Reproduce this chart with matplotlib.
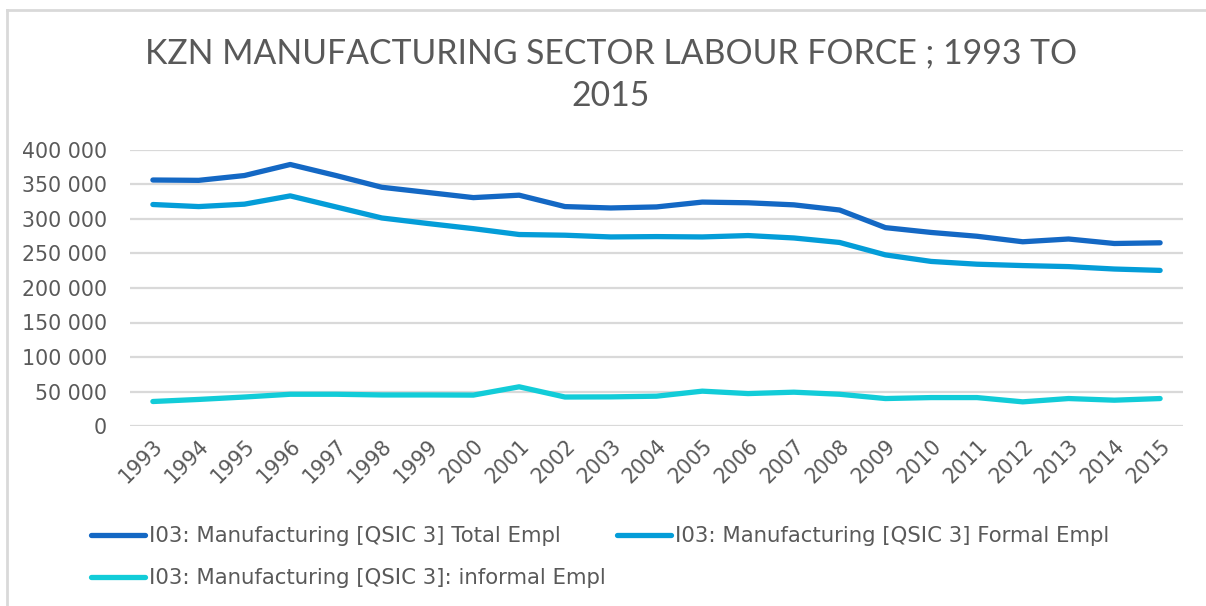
import matplotlib
matplotlib.use("Agg")
import matplotlib.pyplot as plt
from matplotlib.lines import Line2D
from matplotlib.ticker import FuncFormatter

years = [str(y) for y in range(1993, 2016)]

total_empl = [356500, 356000, 363000, 379000, 363000, 346000, 338500, 331000,
              334500, 318000, 316000, 317500, 324500, 323500, 320500, 313000,
              287500, 280500, 275000, 267000, 271000, 264500, 265500]
formal_empl = [321000, 318000, 321500, 333500, 317500, 301500, 293500, 286000,
               277500, 276500, 274000, 274500, 274000, 276000, 272500, 266000,
               248000, 238500, 234500, 232500, 231000, 227500, 225500]
informal_empl = [35500, 38500, 42000, 46000, 46000, 45000, 45000, 44800,
                 56800, 42000, 42200, 43200, 50500, 47000, 49000, 46000,
                 39800, 41200, 41200, 35000, 39800, 37400, 39800]

series_labels = ["I03: Manufacturing [QSIC 3] Total Empl",
                 "I03: Manufacturing [QSIC 3] Formal Empl",
                 "I03: Manufacturing [QSIC 3]: informal Empl"]
series_colors = ["#1468C4", "#049DD8", "#12CCD8"]

plt.rcParams['font.family'] = ['DejaVu Sans']

text_color = "#595959"
grid_color = "#D9D9D9"
W, H = 1206, 606

fig = plt.figure(figsize=(W / 100, H / 100), dpi=100)
ax = fig.add_axes([130 / W, 1 - 426 / H, (1183 - 130) / W, (426 - 150) / H])

x = range(len(years))
lines = []
for vals, lab, col in zip([total_empl, formal_empl, informal_empl], series_labels, series_colors):
    ln, = ax.plot(x, vals, color=col, linewidth=3.8, label=lab, solid_capstyle='round')
    lines.append(ln)

ax.set_xlim(-0.5, len(years) - 0.5)
ax.set_ylim(0, 400000)
ax.set_yticks(range(0, 400001, 50000))
ax.yaxis.set_major_formatter(FuncFormatter(lambda v, p: f"{int(v):,}".replace(",", " ")))
ax.set_xticks(list(x))
ax.set_xticklabels(years, rotation=45, ha='right', rotation_mode='anchor')

ax.grid(axis='y', color=grid_color, linewidth=1.6)
ax.set_axisbelow(True)
for s in ax.spines.values():
    s.set_visible(False)
ax.tick_params(axis='both', length=0, colors=text_color, labelsize=14.8)
ax.tick_params(axis='y', pad=16.5)
ax.tick_params(axis='x', pad=7)

fig.text(611 / W, 1 - 75 / H, "KZN MANUFACTURING SECTOR LABOUR FORCE ; 1993 TO\n2015",
         ha='center', va='center', fontsize=24.3, color=text_color, linespacing=1.42,
         family=['Lato', 'DejaVu Sans'])

# row-wise order: Total, Formal on the first row, informal below
order = [0, 2, 1]
ax.legend([lines[i] for i in order], [series_labels[i] for i in order],
          loc='upper left', bbox_to_anchor=(91 / W, 1 - 526 / H), bbox_transform=fig.transFigure,
          ncol=2, frameon=False, fontsize=15.3, labelcolor=text_color, handlelength=2.55,
          handletextpad=0.2, columnspacing=0.5, labelspacing=1.05, borderpad=0, borderaxespad=0)

# chart area border (top and left edges)
fig.add_artist(Line2D([7 / W, 1.0], [1 - 10 / H, 1 - 10 / H], transform=fig.transFigure,
                      color=grid_color, linewidth=2))
fig.add_artist(Line2D([7 / W, 7 / W], [0, 1 - 10 / H], transform=fig.transFigure,
                      color=grid_color, linewidth=2))

fig.savefig("out.png", dpi=100)
